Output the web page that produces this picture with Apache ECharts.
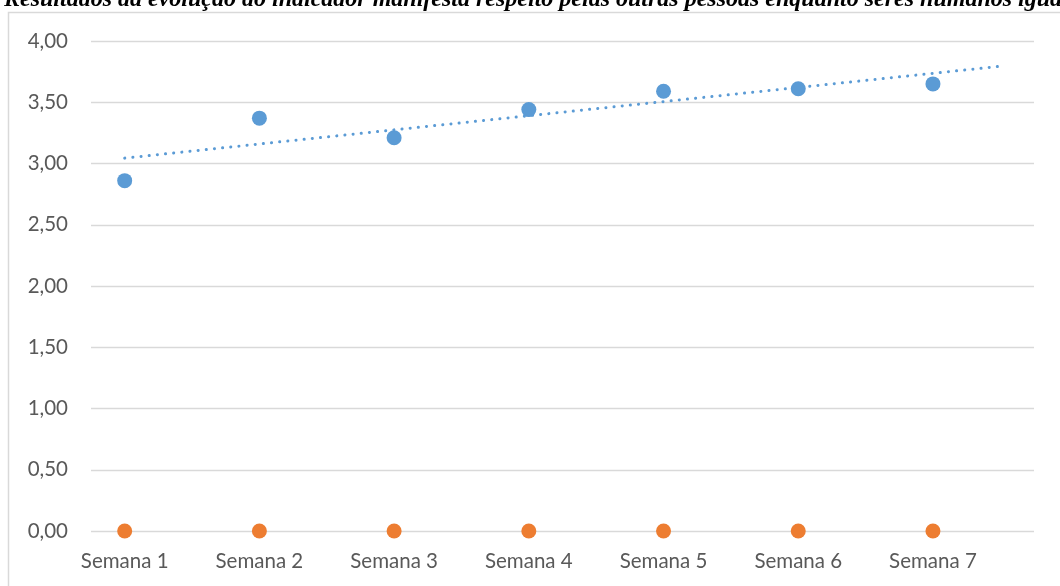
<!doctype html>
<html lang="pt">
<head>
<meta charset="UTF-8">
<title>Evolução do indicador</title>
<script src="https://cdn.jsdelivr.net/npm/echarts@6/dist/echarts.min.js"></script>
<style>
    html, body { margin: 0; padding: 0; background: #fff; }
    #main { width: 1060px; height: 586px; }
</style>
</head>
<body>
<div id="main"></div>
<script>
    // dados
    var semanas = ['Semana 1', 'Semana 2', 'Semana 3', 'Semana 4', 'Semana 5', 'Semana 6', 'Semana 7'];
    var mediaIndicador = [2.86, 3.37, 3.21, 3.44, 3.59, 3.61, 3.65];
    var serieZero = [0, 0, 0, 0, 0, 0, 0];
    var yTicks = [0, 0.5, 1, 1.5, 2, 2.5, 3, 3.5, 4];

    var xPos = semanas.map(function (s, i) { return i + 1; });

    // linha de tendência linear (como no Excel), prolongada 0,5 período para a frente
    var n = xPos.length, sx = 0, sy = 0, sxx = 0, sxy = 0;
    for (var i = 0; i < n; i++) {
        sx += xPos[i]; sy += mediaIndicador[i];
        sxx += xPos[i] * xPos[i]; sxy += xPos[i] * mediaIndicador[i];
    }
    var slope = (n * sxy - sx * sy) / (n * sxx - sx * sx);
    var icpt = (sy - slope * sx) / n;
    var xFim = xPos[n - 1] + 0.5;
    var tendencia = [[xPos[0], icpt + slope * xPos[0]], [xFim, icpt + slope * xFim]];

    var fmt = function (v) { return v.toFixed(2).replace('.', ','); };
    var labelFont = 'Lato, "Open Sans", sans-serif';

    var myChart = echarts.init(document.getElementById('main'));
    var option = {
        animation: false,
        title: {
            left: -1,
            top: -17,
            text: '{a|Resultados da evolução do indicador }{b|manifesta respeito pelas outras pessoas enquanto seres humanos iguais}',
            textStyle: {
                rich: {
                    a: { fontFamily: '"Liberation Serif", serif', fontStyle: 'italic', fontSize: 24, color: '#000' },
                    b: { fontFamily: '"Liberation Serif", serif', fontStyle: 'italic', fontWeight: 'bold', fontSize: 24, color: '#000' }
                }
            }
        },
        graphic: [{
            type: 'rect',
            shape: { x: 8.5, y: 12.5, width: 1200, height: 700 },
            style: { fill: 'none', stroke: '#d9d9d9', lineWidth: 1.5 },
            silent: true,
            z: -1
        }],
        grid: { left: 91, right: 26, top: 41, bottom: 55 },
        xAxis: {
            type: 'value',
            min: 0.75,
            max: 7.75,
            axisLine: { show: false },
            axisTick: { show: false },
            splitLine: { show: false },
            axisLabel: {
                customValues: xPos,
                formatter: function (v) { return semanas[Math.round(v) - 1]; },
                color: '#595959',
                fontFamily: labelFont,
                fontSize: 20.5,
                margin: 20
            }
        },
        yAxis: {
            type: 'value',
            min: yTicks[0],
            max: yTicks[yTicks.length - 1],
            interval: 0.5,
            axisLine: { show: false },
            axisTick: { show: false },
            splitLine: { lineStyle: { color: '#d9d9d9', width: 1.3 } },
            axisLabel: {
                formatter: fmt,
                color: '#595959',
                fontFamily: labelFont,
                fontSize: 20.5,
                margin: 23
            }
        },
        series: [
            {
                name: 'Média',
                type: 'scatter',
                symbolSize: 15,
                itemStyle: { color: '#5b9bd5', opacity: 1 },
                data: xPos.map(function (x, i) { return [x, mediaIndicador[i]]; }),
                z: 3
            },
            {
                name: 'Tendência',
                type: 'line',
                symbol: 'none',
                lineStyle: { color: '#5b9bd5', width: 3, type: [0.1, 8.1], cap: 'round' },
                data: tendencia,
                z: 4
            },
            {
                name: 'Zero',
                type: 'scatter',
                symbolSize: 15,
                itemStyle: { color: '#ed7d31', opacity: 1 },
                data: xPos.map(function (x, i) { return [x, serieZero[i]]; }),
                z: 3
            }
        ]
    };
    myChart.setOption(option);
</script>
</body>
</html>
